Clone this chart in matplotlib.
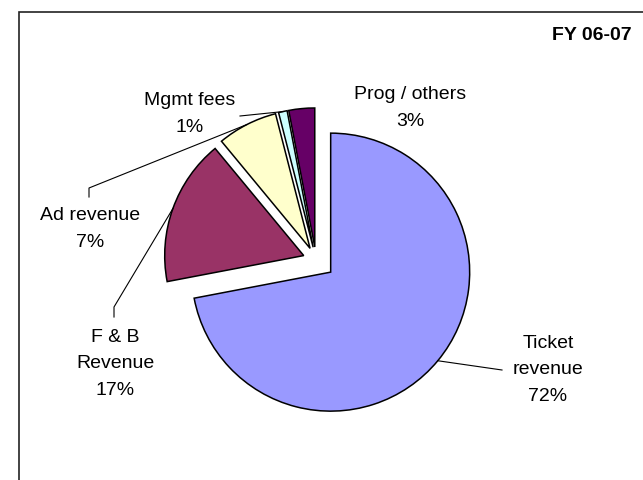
import matplotlib
matplotlib.use('Agg')
import matplotlib.pyplot as plt
from matplotlib.patches import Rectangle
import numpy as np

plt.rcParams['font.family'] = ['Liberation Sans', 'DejaVu Sans']

# data
labels = ["Ticket\nrevenue", "F & B\nRevenue", "Ad revenue", "Mgmt fees", "Prog / others"]
shares = [72, 17, 7, 1, 3]
colors = ["#9999FF", "#993366", "#FFFFCC", "#CCFFFF", "#660066"]
explode = [0.137, 0.094, 0.094, 0.094, 0.094]

W, H = 643, 480
cx, cy, R = 316, 260, 139  # pie centre / radius in pixels


def px(x, y):
    # pixel position (from top-left) -> data coords
    return (x - cx) / R, (cy - y) / R


fig = plt.figure(figsize=(W / 100, H / 100), dpi=100)
ax = fig.add_axes([0, 0, 1, 1])

wedges, _ = ax.pie(shares, explode=explode, colors=colors, startangle=90,
                   counterclock=False,
                   wedgeprops=dict(edgecolor='black', linewidth=1.1))
ax.set_xlim(-cx / R, (W - cx) / R)
ax.set_ylim(-(H - cy) / R, cy / R)
ax.axis('off')

# label centres and leader routes (pixels)
label_pos = [(548, 370), (115, 364), (90, 229), (190, 114), (410, 108)]
leaders = [[(502, 370)], [(114, 317), (114, 307)], [(89, 197), (89, 188)],
           [(240, 116)], []]

for w, lab, v, pos, route in zip(wedges, labels, shares, label_pos, leaders):
    ax.text(*px(*pos), f"{lab}\n{v}%", ha='center', va='center',
            fontsize=14, linespacing=1.76)
    if route:
        th = np.deg2rad((w.theta1 + w.theta2) / 2)
        anchor = (w.center[0] + w.r * np.cos(th), w.center[1] + w.r * np.sin(th))
        pts = [px(*p) for p in route] + [anchor]
        ax.plot([p[0] for p in pts], [p[1] for p in pts], color='black', lw=0.8)

fig.text(632 / W, 1 - 35 / H, "FY 06-07", ha='right', va='center',
         fontsize=14, fontweight='bold')

frame = Rectangle((19 / W, -0.1), 1.2, 1.1 - 12 / H, transform=fig.transFigure,
                  fill=False, edgecolor='#222222', linewidth=1.2)
fig.add_artist(frame)

fig.savefig('out.png', dpi=100)
